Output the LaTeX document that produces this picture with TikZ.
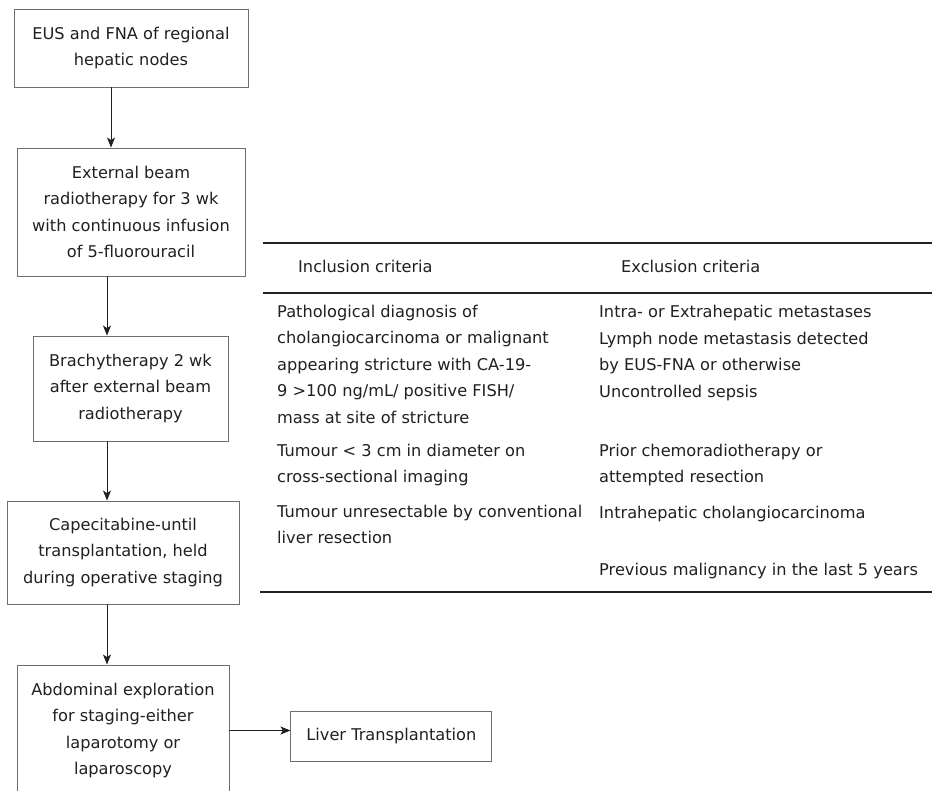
\documentclass[tikz,border=0pt]{standalone}
\usepackage{fontspec}
\setmainfont{DejaVu Sans}
\usetikzlibrary{arrows.meta, positioning}
\definecolor{ink}{HTML}{231F20}
\definecolor{frame}{HTML}{6D6E71}

\begin{document}
\begin{tikzpicture}[x=1pt, y=-1pt,
    font=\fontsize{16.2}{26.5}\selectfont, text=ink,
    box/.style={draw=frame, line width=0.9pt, align=center, inner sep=0pt},
    crit/.style={anchor=base west, align=left, inner sep=0pt},
    rule/.style={draw=ink, line width=1.3pt},
    >={Stealth[length=10pt,width=8pt,inset=2.5pt]}]
\useasboundingbox (0,0) rectangle (932,791);

% flow chart
\node[box, minimum width=234pt, minimum height=78pt] (eus) at (131,48) {EUS and FNA of regional\\hepatic nodes};
\node[box, minimum width=228pt, minimum height=128pt] (ebr) at (131,212) {External beam\\radiotherapy for 3 wk\\with continuous infusion\\of 5-fluorouracil};
\node[box, minimum width=195pt, minimum height=105pt] (bra) at (130.5,388.5) {Brachytherapy 2 wk\\after external beam\\radiotherapy};
\node[box, minimum width=232pt, minimum height=103pt] (cap) at (123,552.5) {Capecitabine-until\\transplantation, held\\during operative staging};
\node[box, minimum width=212pt, minimum height=131pt] (abd) at (123,730.5) {Abdominal exploration\\for staging-either\\laparotomy or\\laparoscopy};
\node[box, minimum width=201pt, minimum height=50pt, right=61pt of abd, yshift=-5.5pt] (ltx) {Liver Transplantation};

\coordinate (c1) at (111,0);
\coordinate (c2) at (107,0);
\path[->, color=ink, line width=0.8pt]
    (eus.south -| c1) edge (ebr.north -| c1)
    (ebr.south -| c2) edge (bra.north -| c2)
    (bra.south -| c2) edge (cap.north -| c2)
    (cap.south -| c2) edge (abd.north -| c2)
    (abd.east) edge (abd.east -| ltx.west);

% criteria table (base = last line)
\draw[rule] (263,243) -- (932,243);
\draw[rule] (263,293) -- (932,293);
\draw[rule] (260,592) -- (932,592);

\node[crit] (inh) at (298,272.5) {Inclusion criteria};
\node[crit] (exh) at (621,272.5) {Exclusion criteria};

\node[crit] (in1) at (277,423.5) {Pathological diagnosis of\\cholangiocarcinoma or malignant\\appearing stricture with CA-19-\\9 >100 ng/mL/ positive FISH/\\mass at site of stricture};
\node[crit] (in2) at (277,482.5) {Tumour < 3 cm in diameter on\\cross-sectional imaging};
\node[crit] (in3) at (277,543.5) {Tumour unresectable by conventional\\liver resection};

\node[crit] (ex1) at (599,397.5) {Intra- or Extrahepatic metastases\\Lymph node metastasis detected\\by EUS-FNA or otherwise\\Uncontrolled sepsis};
\node[crit] (ex2) at (599,482.5) {Prior chemoradiotherapy or\\attempted resection};
\node[crit] (ex3) at (599,518.5) {Intrahepatic cholangiocarcinoma};
\node[crit] (ex4) at (599,575.5) {Previous malignancy in the last 5 years};
\end{tikzpicture}
\end{document}
